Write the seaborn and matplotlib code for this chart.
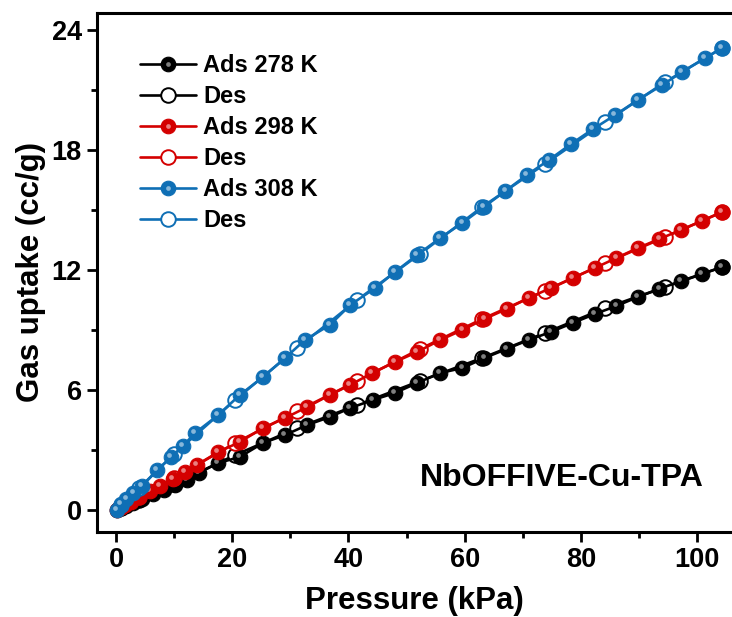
import numpy as np
import pandas as pd
import matplotlib
matplotlib.use("Agg")
import matplotlib.pyplot as plt
import matplotlib.transforms as mtransforms
from matplotlib.lines import Line2D
from matplotlib.ticker import MultipleLocator
import seaborn as sns

# ---------------- data ----------------
p_ads_278 = [0.2, 0.8, 1.8, 3.0, 4.5, 6.3, 8.2, 10.2, 12.2, 14.2, 17.6, 21.3, 25.3, 29.1, 32.9,
             36.8, 40.3, 44.2, 48.0, 51.8, 55.8, 59.6, 63.4, 67.2, 71.0, 74.8, 78.6, 82.4,
             86.1, 89.8, 93.5, 97.2, 100.8, 104.3]
q_ads_278 = [0.0, 0.1, 0.2, 0.35, 0.55, 0.8, 1.0, 1.25, 1.5, 1.85, 2.35, 2.65, 3.35, 3.75, 4.25,
             4.65, 5.1, 5.5, 5.85, 6.35, 6.85, 7.1, 7.6, 8.05, 8.5, 8.9, 9.35, 9.8,
             10.2, 10.65, 11.05, 11.45, 11.8, 12.15]
p_des_278 = [104.3, 94.5, 84.2, 73.8, 63.0, 52.3, 41.5, 31.2, 20.5, 10.0, 4.0, 0.8]
q_des_278 = [12.15, 11.15, 10.1, 8.85, 7.6, 6.45, 5.25, 4.1, 2.75, 1.3, 0.5, 0.1]

p_ads_298 = [0.1, 0.6, 1.5, 2.6, 4.0, 5.8, 7.6, 9.8, 11.8, 13.9, 17.6, 21.3, 25.3, 29.1, 32.9,
             36.8, 40.3, 44.1, 48.0, 51.8, 55.8, 59.6, 63.4, 67.2, 71.0, 74.8, 78.6, 82.4,
             86.1, 89.8, 93.5, 97.2, 100.8, 104.3]
q_ads_298 = [0.0, 0.1, 0.25, 0.4, 0.65, 0.95, 1.2, 1.55, 1.9, 2.25, 2.9, 3.4, 4.1, 4.6, 5.15,
             5.75, 6.25, 6.85, 7.4, 7.9, 8.5, 9.0, 9.55, 10.05, 10.6, 11.1, 11.6, 12.1,
             12.6, 13.1, 13.55, 14.0, 14.45, 14.9]
p_des_298 = [104.3, 94.5, 84.2, 73.8, 63.0, 52.3, 41.5, 31.2, 20.5, 10.0, 4.0, 0.8]
q_des_298 = [14.9, 13.65, 12.35, 10.95, 9.55, 8.05, 6.45, 4.95, 3.35, 1.6, 0.65, 0.15]

p_ads_308 = [0.1, 0.8, 1.8, 3.0, 4.5, 7.1, 9.5, 11.5, 13.6, 17.6, 21.3, 25.3, 29.1, 32.5,
             36.8, 40.3, 44.6, 48.0, 51.8, 55.8, 59.6, 63.3, 67.0, 70.7, 74.5, 78.3, 82.1,
             85.9, 89.8, 94.0, 97.4, 101.4, 104.3]
q_ads_308 = [0.0, 0.3, 0.55, 0.85, 1.2, 2.0, 2.65, 3.2, 3.85, 4.75, 5.75, 6.65, 7.6, 8.5,
             9.25, 10.25, 11.1, 11.9, 12.75, 13.6, 14.35, 15.15, 15.95, 16.75, 17.5, 18.3, 19.05,
             19.75, 20.5, 21.25, 21.9, 22.6, 23.1]
p_des_308 = [104.3, 94.5, 84.2, 73.8, 63.0, 52.3, 41.5, 31.2, 20.5, 10.0, 4.0, 0.8]
q_des_308 = [23.1, 21.4, 19.4, 17.3, 15.15, 12.8, 10.5, 8.1, 5.5, 2.8, 1.1, 0.25]

labels_ads = ["Ads 278 K", "Ads 298 K", "Ads 308 K"]
label_des = "Des"
colors = ["#000000", "#d40000", "#0f6fb5"]

x_ticks = [0, 20, 40, 60, 80, 100]
y_ticks = [0, 6, 12, 18, 24]
annotation = "NbOFFIVE-Cu-TPA"

# ---------------- style ----------------
sns.set_theme(style="ticks")
plt.rcParams["font.family"] = ["Liberation Sans", "DejaVu Sans"]
plt.rcParams["font.weight"] = "bold"
for key in ["text.color", "axes.labelcolor", "xtick.color", "ytick.color", "axes.edgecolor"]:
    plt.rcParams[key] = "black"

fig = plt.figure(figsize=(7.32, 6.17), dpi=100)
ax = fig.add_axes([97 / 732, 1 - 532 / 617, 1 - 97 / 732, (532 - 13) / 617])

ads_sets = [(p_ads_278, q_ads_278), (p_ads_298, q_ads_298), (p_ads_308, q_ads_308)]
des_sets = [(p_des_278, q_des_278), (p_des_298, q_des_298), (p_des_308, q_des_308)]

hl_trans = mtransforms.offset_copy(ax.transData, fig=fig, x=-1.3, y=1.6, units="points")

handles = []
legend_labels = []
ms = 10.5
lw = 1.9
for i in range(3):
    c = colors[i]
    dfa = pd.DataFrame({"p": ads_sets[i][0], "q": ads_sets[i][1]})
    dfd = pd.DataFrame({"p": des_sets[i][0], "q": des_sets[i][1]})
    sns.lineplot(data=dfd, x="p", y="q", ax=ax, sort=False, estimator=None, color=c,
                 lw=lw, marker="o", markersize=ms, markerfacecolor="white",
                 markeredgecolor=c, markeredgewidth=1.4, zorder=2 + i * 3)
    sns.lineplot(data=dfa, x="p", y="q", ax=ax, sort=False, estimator=None, color=c,
                 lw=lw, marker="o", markersize=ms, markerfacecolor=c,
                 markeredgecolor=c, markeredgewidth=0.8, zorder=3 + i * 3)
    # specular highlight on the filled spheres
    ax.plot(dfa["p"], dfa["q"], ls="none", marker="o", markersize=3.4,
            color="white", alpha=0.5, markeredgewidth=0, transform=hl_trans,
            zorder=4 + i * 3)

    h_ads = (Line2D([], [], color=c, lw=lw, marker="o", markersize=ms,
                    markerfacecolor=c, markeredgecolor=c, markeredgewidth=0.8),
             Line2D([], [], ls="none", marker="o", markersize=3.4, color="white",
                    alpha=0.5, markeredgewidth=0))
    h_des = Line2D([], [], color=c, lw=lw, marker="o", markersize=ms,
                   markerfacecolor="white", markeredgecolor=c, markeredgewidth=1.4)
    handles += [h_ads, h_des]
    legend_labels += [labels_ads[i], label_des]

ax.set_xlim(-3.27, 106.0)
ax.set_ylim(-1.1, 24.85)
ax.set_xticks(x_ticks)
ax.set_yticks(y_ticks)
ax.xaxis.set_minor_locator(MultipleLocator(10))
ax.yaxis.set_minor_locator(MultipleLocator(3))
ax.tick_params(which="major", length=7, width=2.0, labelsize=19.5, pad=4,
               direction="out", top=False, right=False, colors="black")
ax.tick_params(which="minor", length=4, width=2.0, direction="out", top=False, right=False,
               colors="black")
for lab in ax.get_xticklabels() + ax.get_yticklabels():
    lab.set_fontweight("bold")

for s in ["left", "bottom", "top"]:
    ax.spines[s].set_linewidth(2.2)
    ax.spines[s].set_color("black")
ax.spines["right"].set_visible(False)

ax.set_xlabel("Pressure (kPa)", fontsize=22.5, fontweight="bold", labelpad=9, color="black")
ax.set_ylabel("Gas uptake (cc/g)", fontsize=22.5, fontweight="bold", labelpad=4, color="black")

leg = ax.legend(handles, legend_labels, loc="upper left", bbox_to_anchor=(0.045, 0.948),
                frameon=False, fontsize=17, handlelength=2.4, handletextpad=0.3,
                labelspacing=0.34, borderaxespad=0.2)
for t in leg.get_texts():
    t.set_fontweight("bold")
    t.set_color("black")

ax.text(0.732, 0.104, annotation, transform=ax.transAxes, ha="center", va="center",
        fontsize=23, fontweight="bold", color="black")

fig.savefig("out.png", dpi=100)
